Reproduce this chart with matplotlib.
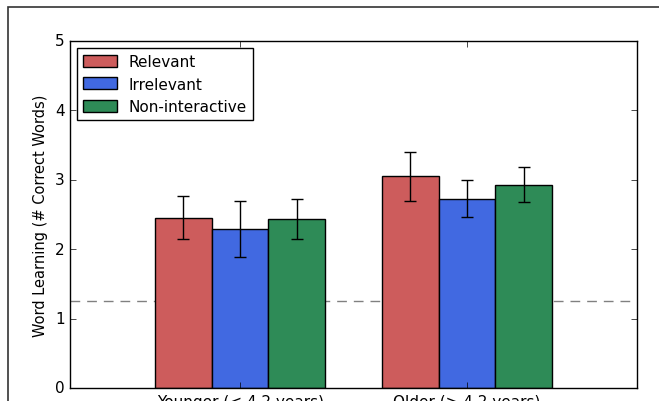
import numpy as np
import matplotlib
matplotlib.use("Agg")
import matplotlib.pyplot as plt
from matplotlib.patches import Rectangle

plt.style.use("classic")

groups = ["Younger (< 4.2 years)", "Older (> 4.2 years)"]
conditions = ["Relevant", "Irrelevant", "Non-interactive"]
colors = ["#CD5C5C", "#4169E1", "#2E8B57"]
means = {
    "Relevant": [2.45, 3.05],
    "Irrelevant": [2.29, 2.73],
    "Non-interactive": [2.44, 2.93],
}
errs = {
    "Relevant": [0.31, 0.35],
    "Irrelevant": [0.40, 0.27],
    "Non-interactive": [0.29, 0.25],
}
chance = 1.25

fig = plt.figure(figsize=(6.59, 4.02), dpi=100, facecolor="white")
ax = fig.add_axes([70/659, 1-389/402, (637-70)/659, (389-42)/402])

x = np.arange(len(groups))
w = 0.25
for i, c in enumerate(conditions):
    ax.bar(x + (i-1)*w, means[c], w, yerr=errs[c], color=colors[i],
           edgecolor="black", linewidth=1, label=c, align="center",
           error_kw=dict(ecolor="black", capsize=4, elinewidth=1, capthick=1),
           zorder=2)

ax.axhline(chance, color="gray", linestyle=(0, (7, 5)), linewidth=1, zorder=1)

ax.set_xlim(-0.75, 1.75)
ax.set_ylim(0, 5)
ax.set_xticks(x)
ax.set_xticklabels(groups, fontsize=11)
ax.tick_params(axis="y", labelsize=11)
ax.set_ylabel("Word Learning (# Correct Words)", fontsize=10.5)

leg = ax.legend(loc="upper left", fontsize=11, borderaxespad=0.45,
                handlelength=2.2, handleheight=0.85, labelspacing=0.5,
                borderpad=0.4)
leg.get_frame().set_linewidth(1)

fig.patches.append(Rectangle((8/659, -0.2), 2, 1-8/402+0.2, transform=fig.transFigure,
                             fill=False, edgecolor="#333333", linewidth=1.2))

fig.savefig("out.png", dpi=100, facecolor="white")
